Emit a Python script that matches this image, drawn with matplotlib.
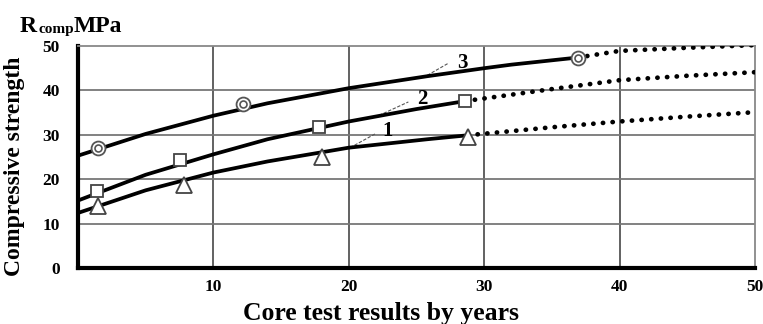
import numpy as np
import matplotlib.pyplot as plt

# measured points (markers)
mx1 = [1.5, 7.8, 18.0, 28.8]
my1 = [14.0, 18.8, 24.9, 29.6]
mx2 = [1.4, 7.5, 17.8, 28.6]
my2 = [17.4, 24.4, 31.7, 37.6]
mx3 = [1.5, 12.2, 36.9]
my3 = [27.0, 37.0, 47.4]

# fitted curves (solid part)
cx1 = [0, 5, 10, 14, 20, 25.8, 28.8]
cy1 = [12.4, 17.5, 21.5, 24.0, 27.1, 29.0, 29.9]
cx2 = [0, 5, 10, 14, 20, 25, 28.6]
cy2 = [15.2, 21.0, 25.6, 29.0, 33.0, 35.8, 37.6]
cx3 = [0, 5, 10, 14, 20, 25.8, 30, 32, 36.9]
cy3 = [25.3, 30.2, 34.3, 37.1, 40.5, 43.2, 45.0, 45.8, 47.4]

# extrapolation (dotted part)
ex1 = [28.8, 35, 40, 45, 50]
ey1 = [29.9, 31.7, 33.0, 34.1, 35.1]
ex2 = [28.6, 35, 40, 45, 50]
ey2 = [37.6, 40.3, 42.3, 43.3, 44.1]
ex3 = [36.9, 40, 45, 50]
ey3 = [47.4, 48.9, 49.6, 50.2]

xticks = [10, 20, 30, 40, 50]
yticks = [0, 10, 20, 30, 40, 50]

plt.rcParams['font.family'] = ['Liberation Serif', 'DejaVu Serif']
plt.rcParams['font.weight'] = 'bold'

fig = plt.figure(figsize=(7.63, 3.24), dpi=100)
ax = fig.add_axes([0.1022, 0.1728, 0.8873, 0.6852])
ax.set_xlim(0, 50)
ax.set_ylim(0, 50)

for v in [10, 20, 30, 40]:
    ax.axvline(v, color='#555555', lw=1.3, zorder=1)
for v in [10, 20, 30, 40]:
    ax.axhline(v, color='#777777', lw=1.3, zorder=1)

for cx, cy, ex, ey in [(cx1, cy1, ex1, ey1), (cx2, cy2, ex2, ey2), (cx3, cy3, ex3, ey3)]:
    ax.plot(cx, cy, '-', c='black', lw=2.7, solid_capstyle='round', zorder=3)
    ax.plot(ex, ey, c='black', lw=3.4, dashes=(0.05, 2.0), dash_capstyle='round', zorder=3)

ax.plot(mx1, my1, '^', ms=11, mfc='white', mec='#444444', mew=1.3, zorder=4, clip_on=False)
ax.plot(mx2, my2, 's', ms=8.5, mfc='white', mec='#444444', mew=1.3, zorder=4, clip_on=False)
ax.plot(mx3, my3, 'o', ms=10, mfc='white', mec='#555555', mew=1.3, zorder=4, clip_on=False)
ax.plot(mx3, my3, 'o', ms=5, mfc='white', mec='#555555', mew=1.2, zorder=5, clip_on=False)

# curve labels with leader lines
for txt, lx, ly, x0, y0, x1, y1 in [('1', 22.9, 30.8, 20.1, 27.1, 22.0, 30.3),
                                     ('2', 25.4, 38.0, 21.9, 33.9, 24.4, 37.4),
                                     ('3', 28.4, 46.2, 25.8, 43.4, 27.4, 46.2)]:
    ax.plot([x0, x1], [y0, y1], '--', c='#555555', lw=0.8, dashes=(3, 1.5), zorder=2)
    ax.text(lx, ly, txt, fontsize=15, fontweight='bold', ha='center', va='center', zorder=6)

for s in ['top', 'right']:
    ax.spines[s].set_color('#888888')
    ax.spines[s].set_linewidth(1.3)
for s in ['left', 'bottom']:
    ax.spines[s].set_color('black')
    ax.spines[s].set_linewidth(3)

ax.set_xticks(xticks)
ax.set_yticks(yticks)
ax.tick_params(axis='x', length=0, labelsize=12.5, pad=8)
ax.tick_params(axis='y', length=0, labelsize=12.5, pad=13)
for lab in ax.get_xticklabels() + ax.get_yticklabels():
    lab.set_fontweight('bold')

ax.set_xlabel('Core test results by years', fontsize=18.5, fontweight='bold')
ax.xaxis.set_label_coords(0.4476, -0.155)
ax.set_ylabel('Compressive strength', fontsize=17, fontweight='bold')
ax.yaxis.set_label_coords(-0.078, 0.46)
fig.text(0.026, 0.918, 'R', fontsize=17, fontweight='bold', va='center')
fig.text(0.051, 0.908, 'comp', fontsize=11, fontweight='bold', va='center')
fig.text(0.097, 0.918, 'MPa', fontsize=17, fontweight='bold', va='center')

plt.savefig('out.png', dpi=100)
